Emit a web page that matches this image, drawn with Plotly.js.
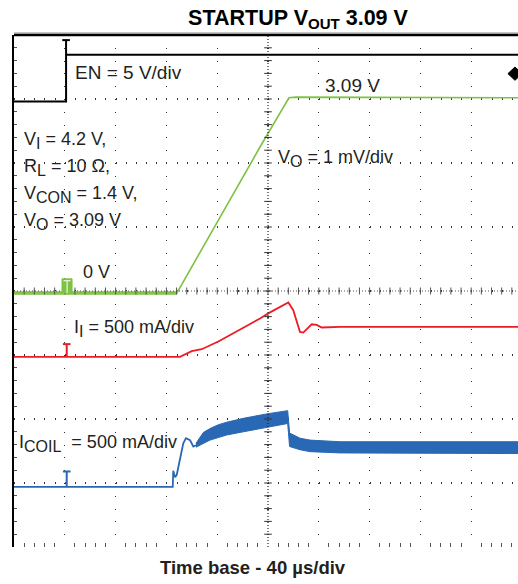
<!DOCTYPE html>
<html>
<head>
<meta charset="utf-8">
<script src="https://cdn.plot.ly/plotly-3.0.1.min.js"></script>
<style>html,body{margin:0;padding:0;background:#fff;}#chart{width:518px;height:584px;}</style>
</head>
<body>
<div id="chart"></div>
<script>
// time in microseconds (40 us/div), levels in screen divisions (0 = bottom, 8 = top)
const enTime = [0, 41, 41, 396.9];
const enLevel = [6.96, 6.96, 7.69, 7.69];

const voBaseTime = [0, 128.3];
const voBaseLevel = [3.97, 3.97];
const voTime = [0, 128.3, 193.7, 216.5, 222, 396.9];
const voLevel = [3.97, 3.97, 6.25, 7.02, 7.03, 7.02];

const iiTime = [0, 130.7, 139.9, 147.8, 160.9, 177.9, 193.7, 200.2, 216.0, 219.9, 225.2, 227.8, 234.4, 238.3, 242.3, 256.7, 396.9];
const iiLevel = [2.97, 2.97, 3.06, 3.09, 3.21, 3.39, 3.57, 3.65, 3.82, 3.70, 3.36, 3.35, 3.48, 3.47, 3.43, 3.44, 3.44];

const icoilTime = [0, 125.0, 125.4, 126.8, 128.1, 131.3, 133.3, 135.4, 138.6, 141.2, 143.3];
const icoilLevel = [0.94, 0.94, 1.19, 1.09, 1.125, 1.46, 1.62, 1.70, 1.67, 1.57, 1.59];
const icoilBandTime = [143.3, 149.1, 154.3, 160.9, 167.5, 180.5, 199.0, 215.5, 217.0, 225.2, 233.1, 256.7, 396.9];
const icoilBandHigh = [1.62, 1.79, 1.85, 1.91, 1.95, 2.01, 2.08, 2.13, 1.78, 1.70, 1.67, 1.645, 1.645];
const icoilBandLow = [1.56, 1.62, 1.67, 1.71, 1.75, 1.80, 1.87, 1.93, 1.57, 1.52, 1.49, 1.47, 1.46];

// channel reference markers
const markerTime = 41.5;
const markerBase = [7.69, 3.97, 2.97, 0.94];
const markerTop = [7.92, 4.19, 3.17, 1.18];

const GREEN = '#7dc242', RED = '#ed1c24', BLUE = '#2868b4', TXT = '#231f20';
const FONT = 'Liberation Sans, Arial, sans-serif';
const XMAX = 396.85;

const traces = [
  {x: enTime, y: enLevel, mode: 'lines', line: {color: '#000', width: 2}, hoverinfo: 'skip'},
  {x: voBaseTime, y: voBaseLevel, mode: 'lines', line: {color: '#9dd06c', width: 4}, hoverinfo: 'skip'},
  {x: voTime, y: voLevel, mode: 'lines', line: {color: GREEN, width: 1.6}, hoverinfo: 'skip'},
  {x: iiTime, y: iiLevel, mode: 'lines', line: {color: RED, width: 1.8}, hoverinfo: 'skip'},
  {x: icoilTime, y: icoilLevel, mode: 'lines', line: {color: BLUE, width: 1.8}, hoverinfo: 'skip'},
  {x: icoilBandTime, y: icoilBandLow, mode: 'lines', line: {color: BLUE, width: 1}, hoverinfo: 'skip'},
  {x: icoilBandTime, y: icoilBandHigh, mode: 'lines', fill: 'tonexty', fillcolor: BLUE, line: {color: BLUE, width: 1}, hoverinfo: 'skip'}
];

const shapes = [];
// frame top
shapes.push({type: 'line', xref: 'paper', yref: 'paper', x0: 0, x1: 1, y0: 1.004, y1: 1.004, line: {color: '#999', width: 1}, layer: 'above'});
shapes.push({type: 'line', xref: 'paper', yref: 'paper', x0: 0, x1: 1, y0: 1.0, y1: 1.0, line: {color: '#000', width: 2.5}, layer: 'above'});
// centre crosshair
shapes.push({type: 'line', xref: 'x', yref: 'y', x0: 200, x1: 200, y0: 0, y1: 8, line: {color: '#222', width: 1.2, dash: '1px,2px'}, layer: 'above'});
shapes.push({type: 'line', xref: 'x', yref: 'y', x0: 0, x1: XMAX, y0: 4, y1: 4, line: {color: '#555', width: 1.2, dash: '1px,2px'}, layer: 'above'});
for (let k = 1; k < 40; k++) {
  const yv = k * 0.2;
  shapes.push({type: 'line', xref: 'x', yref: 'y', x0: 200 - 3, x1: 200 + 3, y0: yv, y1: yv, line: {color: '#333', width: 1}, layer: 'above'});
}
for (let k = 1; k < 50; k++) {
  const xv = k * 8;
  if (xv > XMAX) break;
  shapes.push({type: 'line', xref: 'x', yref: 'y', x0: xv, x1: xv, y0: 4 - 0.055, y1: 4 + 0.055, line: {color: '#555', width: 1}, layer: 'above'});
}
// channel markers (T shapes)
const markerColors = ['#000', GREEN, RED, BLUE];
markerBase.forEach((b, i) => {
  if (i === 1) {
    shapes.push({type: 'rect', xref: 'x', yref: 'y', x0: markerTime - 3.7, x1: markerTime + 4.2, y0: b, y1: markerTop[i], fillcolor: GREEN, line: {color: GREEN, width: 1}, layer: 'above'});
    shapes.push({type: 'line', xref: 'x', yref: 'y', x0: markerTime + 0.3, x1: markerTime + 0.3, y0: b, y1: markerTop[i] - 0.03, line: {color: '#fff', width: 1}, layer: 'above'});
    shapes.push({type: 'line', xref: 'x', yref: 'y', x0: markerTime - 2.5, x1: markerTime + 3, y0: markerTop[i] - 0.03, y1: markerTop[i] - 0.03, line: {color: '#fff', width: 1}, layer: 'above'});
  } else {
    const xm = i === 0 ? markerTime - 0.5 : markerTime;
    shapes.push({type: 'line', xref: 'x', yref: 'y', x0: xm, x1: xm, y0: b, y1: markerTop[i], line: {color: markerColors[i], width: 2}, layer: 'above'});
    shapes.push({type: 'line', xref: 'x', yref: 'y', x0: xm - 3, x1: xm + 3, y0: markerTop[i], y1: markerTop[i], line: {color: markerColors[i], width: 2}, layer: 'above'});
  }
});
// EN reference arrow at right edge
shapes.push({type: 'path', xref: 'paper', yref: 'paper',
  path: 'M 0.98,0.9245 L 0.994,0.9375 L 1.008,0.9245 L 0.994,0.9115 Z',
  fillcolor: '#000', line: {color: '#000', width: 1}, layer: 'above'});

function sub(s) { return '<sub><span style="font-size:16px">' + s + '</span></sub>'; }

function ann(text, px, py, size, extra) {
  return Object.assign({
    text: text, xref: 'paper', yref: 'paper',
    x: (px - 14) / 504, y: (547 - py) / 512,
    xanchor: 'left', yanchor: 'middle', showarrow: false,
    font: {family: FONT, size: size || 18, color: TXT}
  }, extra || {});
}

const annotations = [
  ann('EN = 5 V/div', 73, 72, 19),
  ann('3.09 V', 323, 85, 19),
  ann('V' + sub('O') + ' = 1 mV/div', 276, 158),
  ann('V' + sub('I') + ' = 4.2 V,', 22, 140),
  ann('R' + sub('L') + ' = 10 Ω,', 22, 167),
  ann('V' + sub('CON') + ' = 1.4 V,', 22, 194),
  ann('V' + sub('O') + ' = 3.09 V', 22, 221),
  ann('0 V', 81, 272),
  ann('I' + sub('I') + ' = 500 mA/div', 72, 328),
  ann('I' + sub('COIL') + '  = 500 mA/div', 17, 443),
  {text: '<b>Time base - 40 µs/div</b>', xref: 'paper', yref: 'paper', x: (253 - 14) / 504, y: (547 - 567) / 512,
   xanchor: 'center', yanchor: 'middle', showarrow: false, font: {family: FONT, size: 18.5, color: TXT}}
];

const layout = {
  width: 518, height: 584,
  margin: {l: 14, r: 0, t: 35, b: 37, pad: 0},
  paper_bgcolor: '#fff', plot_bgcolor: '#fff',
  showlegend: false,
  title: {text: '<b>STARTUP V<sub>OUT</sub> 3.09 V</b>', x: 298 / 518, xanchor: 'center', xref: 'container',
          y: 1 - 17 / 584, yanchor: 'middle', yref: 'container',
          font: {family: FONT, size: 21.5, color: '#000'}},
  xaxis: {range: [0, XMAX], dtick: 40, tick0: 0, showticklabels: false, ticks: '', zeroline: false,
          showgrid: true, gridcolor: '#333', gridwidth: 1.3, griddash: '1px,11.8px',
          showline: false, mirror: 'ticks', fixedrange: true,
          minor: {ticks: 'inside', ticklen: 4, dtick: 8, tick0: 0, tickcolor: '#555', tickwidth: 1, showgrid: false}},
  yaxis: {range: [0, 8], dtick: 1, tick0: 0, showticklabels: false, ticks: '', zeroline: false,
          showgrid: true, gridcolor: '#333', gridwidth: 1.3, griddash: '1px,9.16px',
          showline: true, linecolor: '#000', linewidth: 2, fixedrange: true,
          minor: {ticks: 'inside', ticklen: 3, dtick: 0.2, tick0: 0, tickcolor: '#555', tickwidth: 1, showgrid: false}},
  shapes: shapes,
  annotations: annotations
};

Plotly.newPlot('chart', traces, layout, {staticPlot: true, displayModeBar: false});
</script>
</body>
</html>
